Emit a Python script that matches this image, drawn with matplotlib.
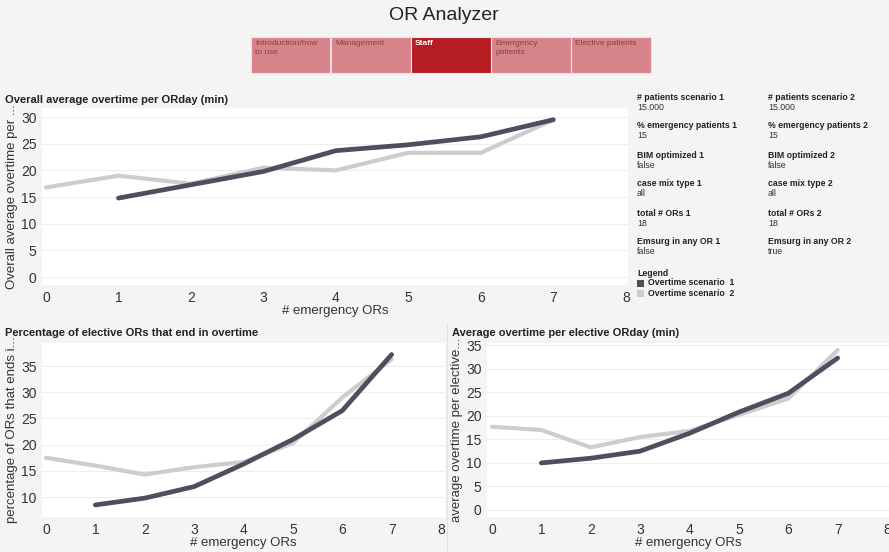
import numpy as np
import matplotlib
matplotlib.use("Agg")
import matplotlib.pyplot as plt
from matplotlib.patches import Rectangle

W, H = 889, 552

ors_1 = [1, 2, 3, 4, 5, 6, 7]
ors_2 = [0, 1, 2, 3, 4, 5, 6, 7]

overall_1 = [14.8, 17.3, 19.8, 23.7, 24.8, 26.3, 29.5]
overall_2 = [16.8, 19.0, 17.5, 20.5, 20.0, 23.3, 23.3, 29.5]

pct_end_1 = [8.5, 9.8, 12.0, 16.3, 21.0, 26.5, 37.2]
pct_end_2 = [17.5, 16.0, 14.3, 15.7, 16.7, 20.3, 29.0, 36.3]

elective_1 = [10.0, 11.0, 12.5, 16.3, 20.8, 24.8, 32.3]
elective_2 = [17.7, 17.0, 13.3, 15.5, 16.8, 20.2, 23.7, 34.0]

nav_tabs = ["Introduction/how\nto use", "Management", "Staff", "Emergency\npatients", "Elective patients"]
active_tab = "Staff"

params = [
    ("# patients scenario 1", "15.000", "# patients scenario 2", "15.000"),
    ("% emergency patients 1", "15", "% emergency patients 2", "15"),
    ("BIM optimized 1", "false", "BIM optimized 2", "false"),
    ("case mix type 1", "all", "case mix type 2", "all"),
    ("total # ORs 1", "18", "total # ORs 2", "18"),
    ("Emsurg in any OR 1", "false", "Emsurg in any OR 2", "true"),
]
legend_labels = ["Overtime scenario  1", "Overtime scenario  2"]

DARK = "#4b4f5e"
LIGHT = "#cdcdcd"
BG = "#f4f4f4"
FONT = "Liberation Sans"

fig = plt.figure(figsize=(W / 100, H / 100), dpi=100, facecolor=BG)


def fx(px):
    return px / W


def fy(py):
    return 1 - py / H


def add_ax(left, top, right, bottom):
    return fig.add_axes([fx(left), fy(bottom), fx(right - left), (bottom - top) / H])


# header
fig.text(fx(444), fy(15), "OR Analyzer", ha="center", va="center",
         fontsize=14, family=FONT, color="#222222")
tab_w = 79.5
for i, name in enumerate(nav_tabs):
    x0 = 251 + i * (tab_w + 0.5)
    on = name == active_tab
    fig.patches.append(Rectangle((fx(x0), fy(73)), fx(tab_w), 36 / H,
                                 transform=fig.transFigure,
                                 facecolor="#b51c24" if on else "#d7838b",
                                 edgecolor="#f4dfe0", lw=0.8))
    fig.text(fx(x0 + 4), fy(40), name, ha="left", va="top", fontsize=6,
             family=FONT, linespacing=1.3,
             color="white" if on else "#8e3d45",
             fontweight="bold" if on else "normal")


def style(ax, xlim, ylim, yticks, ylabel):
    ax.set_facecolor("white")
    ax.set_xlim(*xlim)
    ax.set_ylim(*ylim)
    ax.set_xticks(range(0, 9))
    ax.set_yticks(yticks)
    ax.tick_params(length=0, labelsize=10, colors="#333333", pad=4)
    for lab in ax.get_xticklabels() + ax.get_yticklabels():
        lab.set_family(FONT)
    for s in ax.spines.values():
        s.set_visible(False)
    ax.grid(axis="y", color="#eeeeee", lw=0.8)
    ax.set_axisbelow(True)
    ax.set_xlabel("# emergency ORs", fontsize=9.5, family=FONT,
                  color="#333333", labelpad=0)
    ax.set_ylabel(ylabel, fontsize=9.5, family=FONT,
                  color="#333333", labelpad=2)


def draw_lines(ax, y1, y2):
    ax.plot(ors_2, y2, color=LIGHT, lw=3.0, solid_capstyle="round", zorder=2)
    ax.plot(ors_1, y1, color=DARK, lw=3.4, solid_capstyle="round", zorder=3)


def title(x, y, s):
    fig.text(fx(x), fy(y), s, fontsize=8, family=FONT, fontweight="bold",
             color="#222222", va="center")


# top chart
ax1 = add_ax(42, 108, 628, 285)
style(ax1, (-0.055, 8.03), (-1.5, 31.7), range(0, 31, 5), "Overall average overtime per ...")
draw_lines(ax1, overall_1, overall_2)
title(5, 100, "Overall average overtime per ORday (min)")

# bottom left
ax2 = add_ax(42, 343, 445, 517)
style(ax2, (-0.08, 8.08), (6.2, 39.4), range(10, 36, 5), "percentage of ORs that ends i...")
draw_lines(ax2, pct_end_1, pct_end_2)
title(5, 333, "Percentage of elective ORs that end in overtime")

# bottom right
ax3 = add_ax(487, 343, 889, 517)
style(ax3, (-0.1, 8.04), (-1.5, 35.5), range(0, 36, 5), "average overtime per elective...")
draw_lines(ax3, elective_1, elective_2)
title(452, 333, "Average overtime per elective ORday (min)")

# panel divider
fig.lines.append(plt.Line2D([fx(447), fx(447)], [fy(323), fy(552)],
                            transform=fig.transFigure, color="#e2e2e2", lw=0.8))

# parameter panel
for r, (l1, v1, l2, v2) in enumerate(params):
    y = 97 + r * 29
    for x, lab, val in ((637, l1, v1), (768, l2, v2)):
        fig.text(fx(x), fy(y), lab, fontsize=6.3, family=FONT, fontweight="bold",
                 color="#222222", va="center")
        fig.text(fx(x), fy(y + 10), val, fontsize=6.3, family=FONT,
                 color="#333333", va="center")

fig.text(fx(637), fy(273), "Legend", fontsize=6.3, family=FONT, fontweight="bold",
         color="#222222", va="center")
for i, (lab, col) in enumerate(zip(legend_labels, [DARK, LIGHT])):
    y = 283 + i * 10.5
    fig.patches.append(Rectangle((fx(637), fy(y + 3.5)), fx(7), 7 / H,
                                 transform=fig.transFigure, facecolor=col, edgecolor="none"))
    fig.text(fx(648), fy(y), lab, fontsize=6.3, family=FONT, fontweight="bold",
             color="#222222", va="center")

fig.savefig("out.png", dpi=100, facecolor=BG)
